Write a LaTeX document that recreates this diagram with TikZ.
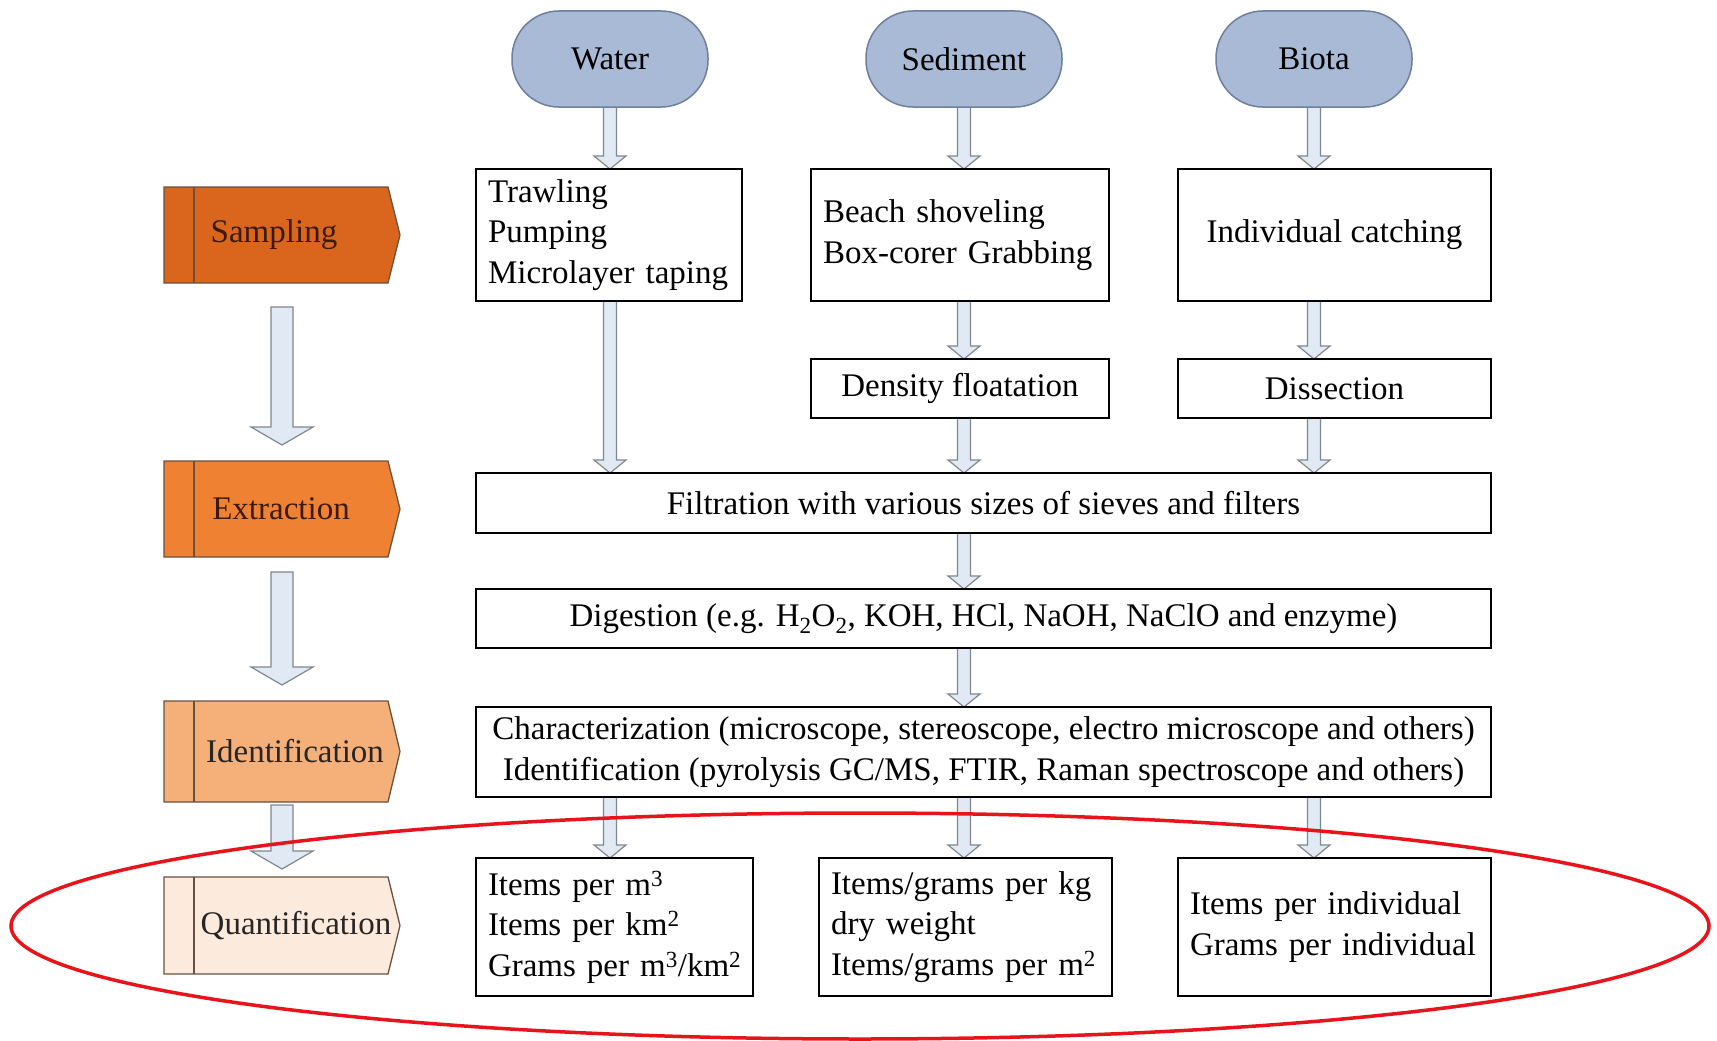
\documentclass[tikz,border=0pt]{standalone}
\usepackage{fontspec}
\setmainfont{Liberation Serif}
\usetikzlibrary{calc}
\definecolor{sampc}{HTML}{D9661C}
\definecolor{extrc}{HTML}{EE8232}
\definecolor{idenc}{HTML}{F5AF78}
\definecolor{quanc}{HTML}{FCEBDC}
\definecolor{mediumc}{HTML}{A8BAD5}
\definecolor{medborder}{HTML}{6F7F9C}
\definecolor{arrfill}{HTML}{E1E9F5}
\definecolor{arrdraw}{HTML}{7F8790}
\definecolor{stageborder}{HTML}{6A5040}
\definecolor{redring}{HTML}{E8141B}
\definecolor{stagetext}{HTML}{3A1A0A}
\pgfdeclarelayer{bg}
\pgfdeclarelayer{paper}
\pgfsetlayers{paper,bg,main}
% main column hollow arrow
\newcommand\harr[2]{\path[harrowst] let \p1=(#1), \p2=(#2) in
  (\x1-6.5pt,\y1) -- (\x1+6.5pt,\y1) -- (\x1+6.5pt,\y2+13pt) -- (\x1+16pt,\y2+13pt)
  -- (\x1,\y2) -- (\x1-16pt,\y2+13pt) -- (\x1-6.5pt,\y2+13pt) -- cycle;}
% stage column hollow arrow with gaps
\newcommand\sarr[4]{\path[harrowst] let \p1=($(#1.south)+(0,#3)$), \p2=($(#2.north)-(0,#4)$) in
  (\x1-11pt,\y1) -- (\x1+11pt,\y1) -- (\x1+11pt,\y2+18pt) -- (\x1+31pt,\y2+18pt)
  -- (\x1,\y2) -- (\x1-31pt,\y2+18pt) -- (\x1-11pt,\y2+18pt) -- cycle;}
% stage box: name, y, height, colour, text x, text, text colour
\newcommand\stagebox[7]{%
  \path[stageline, fill=#4] (164,#2-#3/2) -- (388,#2-#3/2) -- (400,#2) -- (388,#2+#3/2) -- (164,#2+#3/2) -- cycle;
  \draw[stageline] (194,#2-#3/2) -- (194,#2+#3/2);
  \node[minimum width=236pt, minimum height=#3 pt] (#1) at (282,#2) {};
  \node[text=#7] (#1T) at (#5,#2) {#6};}
\begin{document}
\begin{tikzpicture}[x=1pt,y=-1pt,
  font=\fontsize{33}{40.5}\selectfont,
  every node/.style={inner sep=0pt, outer sep=0pt},
  medium/.style={draw=medborder, line width=1.5pt, fill=mediumc, rounded corners=47pt,
    minimum width=196pt, minimum height=96pt},
  box/.style={draw=black, line width=2.5pt, fill=white, inner xsep=12pt},
  stageline/.style={draw=stageborder, line width=1.3pt},
  harrowst/.style={draw=arrdraw, fill=arrfill, line width=1.2pt, line join=miter}
]
\begin{pgfonlayer}{paper}
\useasboundingbox[fill=white] (0,0) rectangle (1717,1041);
\end{pgfonlayer}

% media
\node[medium] (water) at (610,59) {Water};
\node[medium] (sed) at (964,59) {Sediment};
\node[medium] (bio) at (1314,59) {Biota};

% sampling row
\node[box, minimum width=266pt, minimum height=132pt, text width=242pt, align=left] (wbox) at (609,235)
  {Trawling\\Pumping\\Microlayer taping};
\node[box, minimum width=298pt, minimum height=132pt, text width=274pt, align=left] (sbox) at (960,235)
  {Beach shoveling\\Box-corer Grabbing};
\node[box, minimum width=313pt, minimum height=132pt, align=center] (bbox) at (1334.5,235)
  {Individual catching};

\node[box, minimum width=298pt, minimum height=59pt] (dens) at (960,388.5) {Density floatation};
\node[box, minimum width=313pt, minimum height=59pt] (diss) at (1334.5,388.5) {Dissection};

\node[box, minimum width=1015pt, minimum height=60pt] (filt) at (983.5,503)
  {Filtration with various sizes of sieves and filters};
\node[box, minimum width=1015pt, minimum height=59pt] (dig) at (983.5,618.5)
  {Digestion (e.g. H\textsubscript{2}O\textsubscript{2}, KOH, HCl, NaOH, NaClO and enzyme)};
\node[box, minimum width=1015pt, minimum height=90pt, align=center] (char) at (983.5,752)
  {Characterization (microscope, stereoscope, electro microscope and others)\\
   Identification (pyrolysis GC/MS, FTIR, Raman spectroscope and others)};

\node[box, minimum width=277pt, minimum height=138pt, text width=253pt, align=left] (qw) at (614.5,927)
  {Items per m\textsuperscript{3}\\Items per km\textsuperscript{2}\\\mbox{Grams per m\textsuperscript{3}/km\textsuperscript{2}}};
\node[box, minimum width=293pt, minimum height=138pt, text width=269pt, align=left] (qs) at (965.5,927)
  {Items/grams per kg\\dry weight\\\mbox{Items/grams per m\textsuperscript{2}}};
\node[box, minimum width=313pt, minimum height=138pt, text width=289pt, align=left] (qb) at (1334.5,927)
  {Items per individual\\Grams per individual};

% stages
\stagebox{samp}{235}{96}{sampc}{274}{Sampling}{stagetext}
\stagebox{extr}{509}{96}{extrc}{281}{Extraction}{stagetext}
\stagebox{iden}{751.5}{101}{idenc}{295}{Identification}{black!85}
\stagebox{quan}{925.5}{97}{quanc}{296}{Quantification}{black!85}

\begin{pgfonlayer}{bg}
\harr{water.south}{water.south |- wbox.north}
\harr{sed.south}{sed.south |- sbox.north}
\harr{bio.south}{bio.south |- bbox.north}
\harr{water.south |- wbox.south}{water.south |- filt.north}
\harr{sed.south |- sbox.south}{sed.south |- dens.north}
\harr{bio.south |- bbox.south}{bio.south |- diss.north}
\harr{sed.south |- dens.south}{sed.south |- filt.north}
\harr{bio.south |- diss.south}{bio.south |- filt.north}
\harr{sed.south |- filt.south}{sed.south |- dig.north}
\harr{sed.south |- dig.south}{sed.south |- char.north}
\harr{water.south |- char.south}{water.south |- qw.north}
\harr{sed.south |- char.south}{sed.south |- qs.north}
\harr{bio.south |- char.south}{bio.south |- qb.north}
\end{pgfonlayer}

\sarr{samp}{extr}{24}{16}
\sarr{extr}{iden}{15}{16}
\sarr{iden}{quan}{3}{8}

% highlight ring
\draw[redring, line width=3.5pt] (860,926) ellipse [x radius=849, y radius=113];
\end{tikzpicture}
\end{document}
